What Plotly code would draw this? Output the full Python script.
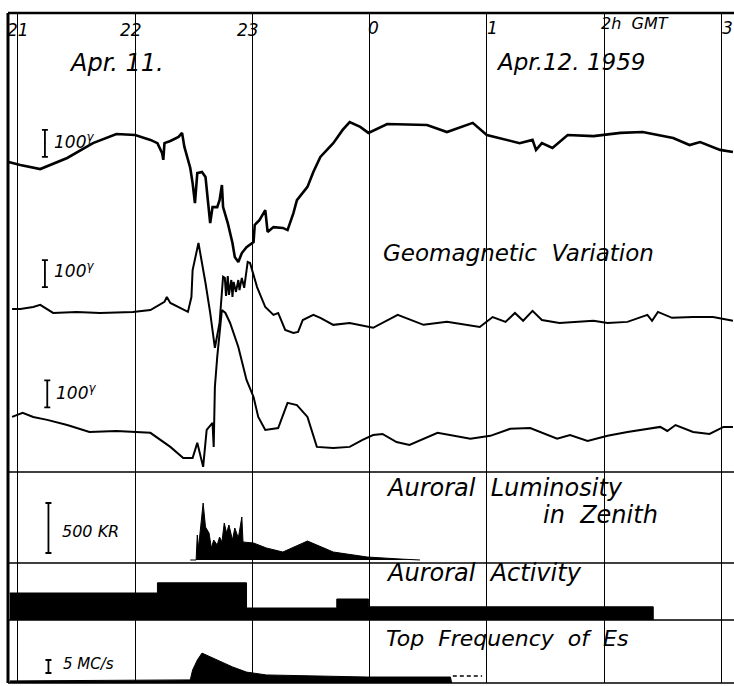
import plotly.graph_objects as go
from plotly.subplots import make_subplots

# hours GMT, values past 24 belong to Apr. 12
HOUR_TICKS = [21, 22, 23, 24, 25, 26, 27]
HOUR_LABELS = ["21", "22", "23", "0", "1", "2h  GMT", "3"]

# geomagnetic variation, gamma relative to each trace's quiet level
geo1_time = [20.92, 21.02, 21.19, 21.42, 21.64, 21.84, 22.00, 22.13, 22.19, 22.23, 22.24, 22.25,
             22.30, 22.37, 22.40, 22.42, 22.47, 22.49, 22.51, 22.53, 22.57, 22.60, 22.62, 22.64,
             22.66, 22.70, 22.72, 22.74, 22.75, 22.79, 22.83, 22.85, 22.88, 22.91, 22.95, 23.01,
             23.02, 23.06, 23.11, 23.13, 23.18, 23.26, 23.30, 23.35, 23.38, 23.47, 23.52, 23.55,
             23.58, 23.69, 23.77, 23.83, 23.92, 23.99, 24.15, 24.49, 24.66, 24.88, 25.00, 25.28,
             25.39, 25.42, 25.47, 25.56, 25.69, 25.91, 26.14, 26.33, 26.59, 26.73, 26.82, 26.99,
             27.10]
geo1_gamma = [11, 0, -15, 26, 81, 115, 111, 93, 81, 44, 19, 81,
              89, 104, 119, 67, -11, -67, -141, -30, -26, -44, -130, -215,
              -156, -156, -130, -74, -156, -215, -289, -341, -359, -326, -304, -285,
              -222, -204, -167, -248, -230, -233, -241, -178, -130, -81, -26, 0,
              30, 81, 130, 159, 141, 119, 152, 148, 122, 156, 111, 81,
              93, 56, 81, 63, 111, 107, 119, 122, 100, 74, 85, 56,
              48]

geo2_time = [20.95, 21.02, 21.13, 21.19, 21.30, 21.42, 21.50, 21.70, 21.98, 22.13, 22.25, 22.27,
             22.30, 22.45, 22.48, 22.49, 22.54, 22.60, 22.64, 22.68, 22.72, 22.75, 22.765, 22.775,
             22.79, 22.80, 22.82, 22.83, 22.84, 22.86, 22.88, 22.89, 22.91, 22.93, 22.95, 22.96,
             22.98, 23.04, 23.11, 23.18, 23.22, 23.28, 23.35, 23.39, 23.43, 23.52, 23.58, 23.69,
             23.83, 23.98, 24.03, 24.24, 24.46, 24.66, 24.94, 25.05, 25.16, 25.24, 25.31, 25.39,
             25.47, 25.62, 25.91, 26.03, 26.20, 26.37, 26.41, 26.46, 26.58, 26.76, 26.93, 27.10]
geo2_gamma = [0, 0, 7, 15, -15, -11, -11, -15, -11, -4, 26, 44,
              22, -11, 44, 144, 244, 96, -15, -144, -52, 119, 115, 48,
              122, 52, 107, 44, 100, 63, 107, 70, 115, 78, 137, 174,
              170, 81, 7, -22, -15, -78, -89, -85, -41, -22, -33, -59,
              -52, -67, -70, -22, -59, -48, -67, -30, -48, -15, -44, -7,
              -41, -52, -44, -52, -48, -22, -44, -11, -33, -30, -30, -44]

geo3_time = [20.95, 21.04, 21.13, 21.25, 21.42, 21.61, 21.84, 22.04, 22.13, 22.30, 22.41, 22.49,
             22.53, 22.58, 22.61, 22.66, 22.67, 22.68, 22.70, 22.74, 22.77, 22.81, 22.88, 22.95,
             23.01, 23.05, 23.11, 23.22, 23.30, 23.38, 23.47, 23.55, 23.69, 23.83, 23.94,
             24.03, 24.11, 24.23, 24.34, 24.58, 24.86, 25.03, 25.20, 25.37, 25.60, 25.71, 25.86,
             26.03, 26.20, 26.48, 26.54, 26.61, 26.76, 26.90, 27.02, 27.10]
geo3_gamma = [0, 15, 0, -11, -30, -56, -52, -56, -59, -111, -152, -152,
              -96, -185, -48, -22, -111, 111, 222, 396, 385, 348, 259, 137,
              74, 0, -48, -41, 52, 44, 0, -111, -115, -111, -85,
              -67, -63, -93, -104, -59, -81, -70, -44, -41, -81, -67, -89,
              -70, -56, -37, -52, -30, -56, -63, -37, -37]

# auroral luminosity in zenith, kR
lum_time = [22.47, 22.52, 22.53, 22.54, 22.58, 22.60, 22.63, 22.65, 22.67, 22.70, 22.72, 22.74,
            22.76, 22.78, 22.80, 22.83, 22.85, 22.88, 22.91, 22.92, 23.01, 23.12, 23.26, 23.47,
            23.69, 23.98, 24.26, 24.43]
lum_kr = [0, 0, 250, 120, 570, 330, 270, 120, 200, 150, 230, 180,
          370, 270, 350, 200, 320, 220, 430, 180, 170, 120, 80, 190,
          80, 30, 10, 0]

# auroral activity, stepped levels
act_start = [20.93, 22.19, 22.95, 23.72, 23.99, 26.42]
act_level = [2.25, 3.1, 1.0, 1.75, 1.1, 0.0]

# top frequency of Es, Mc/s
es_time = [20.93, 22.47, 22.49, 22.53, 22.57, 22.70, 22.83, 22.95, 23.12, 23.98, 24.69, 24.70]
es_mcs = [0.8, 1.2, 5.0, 8.8, 11.5, 8.8, 6.2, 4.2, 3.1, 2.3, 2.3, 0]
es_dash_time = [24.71, 24.96]
es_dash_mcs = [2.7, 2.7]

SCALE_GAMMA = 100
SCALE_KR = 500
SCALE_MCS = 5

W, H = 734, 686
ML, MT, MB = 8, 13, 3
X_RANGE = [20.915, 27.109]
GEO_OFFSETS = [1137, 604, 204]
FONT = "DejaVu Sans"


def px_x(px):
    return (px - ML) / (W - ML)


def px_y(py):
    return (H - MB - py) / (H - MT - MB)


fig = make_subplots(rows=4, cols=1, shared_xaxes=True, vertical_spacing=0,
                    row_heights=[459, 91, 57, 63])

for t, g, off, w in [(geo1_time, geo1_gamma, GEO_OFFSETS[0], 2.6),
                     (geo2_time, geo2_gamma, GEO_OFFSETS[1], 2.0),
                     (geo3_time, geo3_gamma, GEO_OFFSETS[2], 2.0)]:
    fig.add_trace(go.Scatter(x=t, y=[v + off for v in g], mode="lines",
                             line=dict(color="black", width=w)), row=1, col=1)

fig.add_trace(go.Scatter(x=lum_time, y=lum_kr, mode="lines", fill="tozeroy",
                         fillcolor="black", line=dict(color="black", width=1)), row=2, col=1)

fig.add_trace(go.Scatter(x=act_start, y=act_level, mode="lines", line_shape="hv",
                         fill="tozeroy", fillcolor="black",
                         line=dict(color="black", width=1)), row=3, col=1)

fig.add_trace(go.Scatter(x=es_time, y=es_mcs, mode="lines", fill="tozeroy",
                         fillcolor="black", line=dict(color="black", width=1)), row=4, col=1)
fig.add_trace(go.Scatter(x=es_dash_time, y=es_dash_mcs, mode="lines",
                         line=dict(color="black", width=1.5, dash="4px,3px")), row=4, col=1)

# scale bars drawn as I-beams
bar_specs = [(21.23, GEO_OFFSETS[0] + 80, SCALE_GAMMA, 1),
             (21.23, GEO_OFFSETS[1] + 131, SCALE_GAMMA, 1),
             (21.25, GEO_OFFSETS[2] + 85, SCALE_GAMMA, 1),
             (21.26, 320, SCALE_KR, 2),
             (21.26, 6.35, SCALE_MCS, 4)]
for bx, by, span, row in bar_specs:
    fig.add_trace(go.Scatter(x=[bx], y=[by], mode="markers",
                             marker=dict(size=1, color="black"),
                             error_y=dict(type="constant", value=span / 2, color="black",
                                          thickness=1.8, width=3)), row=row, col=1)

fig.update_xaxes(range=X_RANGE, tickvals=HOUR_TICKS, showgrid=True, gridcolor="black",
                 gridwidth=1.2, showticklabels=False, zeroline=False, ticks="", showline=False)
fig.update_yaxes(showgrid=False, zeroline=False, showticklabels=False, ticks="", showline=False)
fig.update_yaxes(range=[0, 1700], row=1, col=1)
fig.update_yaxes(range=[-30, 880], row=2, col=1)
fig.update_yaxes(range=[0, 4.75], row=3, col=1)
fig.update_yaxes(range=[0, 24.23], row=4, col=1)

# frame and panel separators
shapes = [dict(type="line", xref="paper", yref="paper", x0=0, x1=0, y0=0, y1=1,
               line=dict(color="black", width=3)),
          dict(type="line", xref="paper", yref="y domain", x0=0, x1=1, y0=1, y1=1,
               line=dict(color="black", width=2.5))]
for yd in ["y domain", "y2 domain", "y3 domain", "y4 domain"]:
    shapes.append(dict(type="line", xref="paper", yref=yd, x0=0, x1=1, y0=0, y1=0,
                       line=dict(color="black", width=1.6)))

notes = []


def note(text, px, py, size, anchor="left"):
    notes.append(dict(text=text, x=px_x(px), y=px_y(py), xref="paper", yref="paper",
                      xanchor=anchor, yanchor="middle", showarrow=False,
                      font=dict(family=FONT, size=size, color="black", style="italic")))


hour_pos = [(18, 30, "center"), (131, 30, "center"), (248, 30, "center"),
            (366, 28, "left"), (485, 28, "left"), (599, 23, "left"), (720, 28, "left")]
for lab, (px, py, anc) in zip(HOUR_LABELS, hour_pos):
    note(lab, px, py, 16 if "GMT" in lab else 17, anc)

note("Apr. 11.", 67, 63, 24)
note("Apr.12. 1959", 494, 62, 23)
note("Geomagnetic  Variation", 381, 253, 23)
note("Auroral  Luminosity", 384, 488, 24)
note("in  Zenith", 541, 515, 24)
note("Auroral  Activity", 384, 573, 24)
note("Top  Frequency  of  Es", 384, 638, 22)
note("100<sup>γ</sup>", 52, 141, 17)
note("100<sup>γ</sup>", 52, 270, 17)
note("100<sup>γ</sup>", 54, 392, 17)
note("500 KR", 60, 531, 16)
note("5 MC/s", 61, 664, 15)

fig.update_layout(width=W, height=H, margin=dict(l=ML, r=0, t=MT, b=MB),
                  plot_bgcolor="white", paper_bgcolor="white", showlegend=False,
                  shapes=shapes, annotations=notes)

fig.write_html("out.html", config={"displayModeBar": False},
               post_script="document.body.style.margin='0';")
